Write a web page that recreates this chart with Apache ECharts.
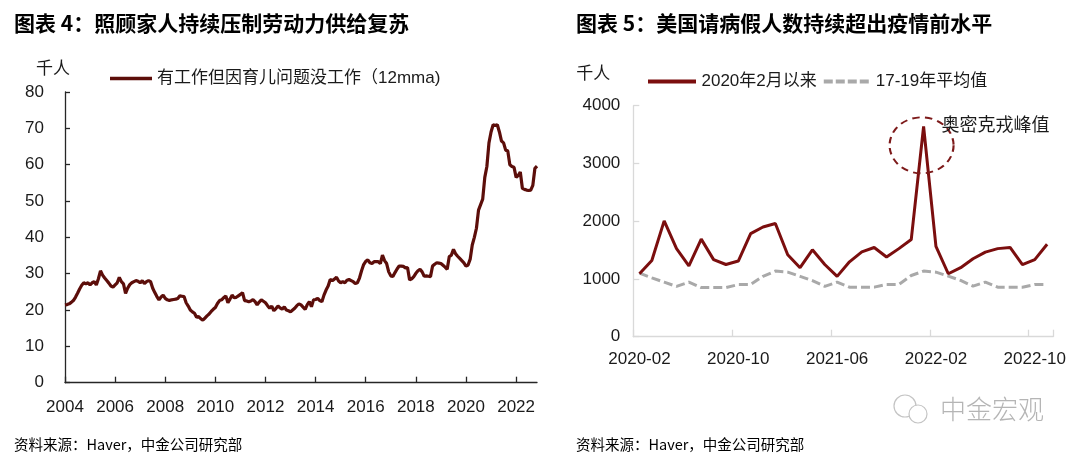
<!DOCTYPE html>
<html>
<head>
<meta charset="utf-8">
<script src="https://cdn.jsdelivr.net/npm/echarts@6/dist/echarts.min.js"></script>
<style>
html,body{margin:0;padding:0;background:#fff;}
#c{width:1080px;height:460px;}
</style>
</head>
<body>
<div id="c"></div>
<script>
// ---------- Chart 4 data (monthly, 12mma, thousand persons) ----------
var childcareValues = [
  21.4,21.5,21.7,22.1,22.6,23.5,24.6,25.8,26.8,27.5,27.2,27.5,   // 2004
  26.9,27.5,27.8,26.9,28.6,30.8,29.6,28.8,28.1,27.4,26.6,26.3,   // 2005
  26.9,27.5,29.0,27.8,27.2,24.6,26.0,27.0,27.5,27.8,28.1,27.9,   // 2006
  27.5,28.1,27.3,27.8,28.1,27.8,26.0,24.8,23.7,22.8,23.6,24.1,   // 2007
  23.2,22.8,22.6,22.8,22.9,23.0,23.2,23.9,23.8,23.7,22.0,21.1,   // 2008
  20.0,19.5,19.1,18.0,18.2,17.6,17.2,17.8,18.4,18.9,19.6,20.2,   // 2009
  20.7,21.8,22.6,22.8,23.4,23.9,22.0,23.0,24.1,23.4,23.5,23.9,   // 2010
  24.3,24.8,22.6,22.5,22.3,22.5,22.9,22.3,21.4,22.2,22.8,22.4,   // 2011
  22.0,21.2,20.5,21.1,19.8,20.4,21.1,20.6,20.2,20.9,20.0,19.8,   // 2012
  19.5,20.0,20.5,21.2,21.7,21.4,20.8,20.2,21.5,22.3,20.9,22.8,   // 2013
  22.9,23.2,22.6,22.3,24.1,25.5,26.6,28.4,28.1,28.5,29.0,28.0,   // 2014
  27.5,27.8,27.5,28.2,28.4,28.1,27.8,27.3,27.5,28.8,30.8,32.5,   // 2015
  33.4,33.8,33.0,32.8,33.3,33.3,33.3,32.8,35.1,33.6,32.8,30.5,   // 2016
  29.4,29.2,30.3,31.3,32.1,32.1,32.0,31.6,31.7,28.3,28.6,29.2,   // 2017
  30.1,30.8,31.2,30.5,29.3,29.4,29.3,29.2,32.1,32.6,33.0,32.9,   // 2018
  32.8,32.3,31.8,31.2,34.7,35.1,36.7,35.5,34.8,34.2,33.6,33.0,   // 2019
  32.1,32.4,34.0,37.9,40.0,42.5,47.5,49.0,50.5,56.5,59.5,66.0,   // 2020
  69.0,71.0,70.8,71.0,69.0,66.5,66.0,64.0,63.8,60.0,59.5,59.3,   // 2021
  56.5,57.0,58.0,53.5,53.2,53.0,52.9,53.0,54.3,59.0,59.6         // 2022 (to Nov)
];
var leftMonths = [];
(function(){
  for (var i = 0; i < childcareValues.length; i++) {
    var y = 2004 + Math.floor(i / 12), m = i % 12 + 1;
    leftMonths.push(y + '-' + (m < 10 ? '0' + m : m));
  }
})();
var leftYTicks = [0,10,20,30,40,50,60,70,80];

// ---------- Chart 5 data (monthly, thousand persons) ----------
var rightMonths = ['2020-02','2020-03','2020-04','2020-05','2020-06','2020-07','2020-08','2020-09','2020-10','2020-11','2020-12',
  '2021-01','2021-02','2021-03','2021-04','2021-05','2021-06','2021-07','2021-08','2021-09','2021-10','2021-11','2021-12',
  '2022-01','2022-02','2022-03','2022-04','2022-05','2022-06','2022-07','2022-08','2022-09','2022-10','2022-11'];
var sickSince2020 = [1090,1320,2005,1525,1225,1690,1335,1250,1310,1785,1900,
  1960,1420,1195,1505,1250,1045,1297,1470,1545,1380,1525,1682,
  3640,1565,1090,1195,1350,1465,1525,1545,1247,1334,1600];
var sickAvg1719 = [1100,1020,945,870,945,850,850,850,904,904,1045,
  1136,1118,1045,970,872,945,858,857,858,904,904,1060,
  1136,1118,1050,974,875,945,857,857,857,904,904];
var rightYTicks = [0,1000,2000,3000,4000];

var FONT = "'Liberation Sans','Noto Sans CJK SC',sans-serif";
var CJK = "'Noto Sans CJK SC','Liberation Sans',sans-serif";
var TXT = '#1a1a1a';
var LEFT_RED = '#5c0e0a';
var RIGHT_RED = '#7b0e0e';
var GRAY = '#a9a9a9';
var ICON_SOLID = 'path://M0,0H48V4H0Z';
var ICON_DASH = 'path://M0,0H9V4H0Z M12,0H21V4H12Z M24,0H33V4H24Z M36,0H45V4H36Z';

var chart = echarts.init(document.getElementById('c'), null, {renderer: 'canvas'});
var option = {
  backgroundColor: '#ffffff',
  animation: false,
  textStyle: {fontFamily: FONT},
  title: [
    {text: '图表 4：照顾家人持续压制劳动力供给复苏', left: 9, top: 8,
     textStyle: {fontFamily: CJK, fontSize: 21, fontWeight: 'bold', color: '#000'}},
    {text: '图表 5：美国请病假人数持续超出疫情前水平', left: 571, top: 8,
     textStyle: {fontFamily: CJK, fontSize: 21, fontWeight: 'bold', color: '#000'}},
    {text: '资料来源：Haver，中金公司研究部', left: 9, top: 432,
     textStyle: {fontFamily: CJK, fontSize: 14.5, fontWeight: 'normal', color: '#000'}},
    {text: '资料来源：Haver，中金公司研究部', left: 571, top: 432,
     textStyle: {fontFamily: CJK, fontSize: 14.5, fontWeight: 'normal', color: '#000'}}
  ],
  legend: [
    {left: 105, top: 65, itemWidth: 42, itemHeight: 4, itemGap: 6,
     data: [{name: '有工作但因育儿问题没工作（12mma)', icon: ICON_SOLID}],
     textStyle: {fontSize: 17, color: TXT, fontFamily: FONT}},
    {left: 643, top: 68, itemWidth: 49, itemHeight: 4, itemGap: 7,
     data: [{name: '2020年2月以来', icon: ICON_SOLID}, {name: '17-19年平均值', icon: ICON_DASH}],
     textStyle: {fontSize: 17, color: TXT, fontFamily: FONT}}
  ],
  grid: [
    {left: 65, top: 92, width: 472, height: 290.7},
    {left: 633.3, top: 105.7, width: 420, height: 231}
  ],
  xAxis: [
    {type: 'category', gridIndex: 0, data: leftMonths, boundaryGap: false,
     axisLine: {lineStyle: {color: '#262626', width: 1.3}},
     axisTick: {show: true, inside: true, length: 6, interval: 23, lineStyle: {color: '#262626', width: 1.3}},
     axisLabel: {interval: 23, margin: 16, fontSize: 17, color: TXT, fontFamily: FONT,
       formatter: function (v) { return v.slice(0, 4); }},
     splitLine: {show: false}},
    {type: 'category', gridIndex: 1, data: rightMonths, boundaryGap: true,
     axisLine: {lineStyle: {color: '#d9d9d9', width: 1.3}},
     axisTick: {show: true, inside: true, length: 7, interval: 7, lineStyle: {color: '#d9d9d9', width: 1.3}},
     axisLabel: {interval: 7, margin: 14, fontSize: 17, color: TXT, fontFamily: FONT},
     splitLine: {show: false}}
  ],
  yAxis: [
    {type: 'value', gridIndex: 0, min: leftYTicks[0], max: leftYTicks[leftYTicks.length - 1], interval: 10,
     name: '千人', nameLocation: 'end', nameGap: 16,
     nameTextStyle: {fontFamily: CJK, fontSize: 17, color: TXT, align: 'center', padding: [0, 24, 0, 0]},
     axisLine: {show: true, lineStyle: {color: '#262626', width: 1.3}},
     axisTick: {show: true, inside: true, length: 5, lineStyle: {color: '#262626', width: 1.3}},
     axisLabel: {margin: 21, fontSize: 17, color: TXT, fontFamily: FONT,
       formatter: function (v) { return String(v); }},
     splitLine: {show: false}},
    {type: 'value', gridIndex: 1, min: rightYTicks[0], max: rightYTicks[rightYTicks.length - 1], interval: 1000,
     name: '千人', nameLocation: 'end', nameGap: 25,
     nameTextStyle: {fontFamily: CJK, fontSize: 17, color: TXT, align: 'center', padding: [0, 80, 0, 0]},
     axisLine: {show: true, lineStyle: {color: '#d9d9d9', width: 1.3}},
     axisTick: {show: true, inside: true, length: 6, lineStyle: {color: '#d9d9d9', width: 1.3}},
     axisLabel: {margin: 13, fontSize: 17, color: TXT, fontFamily: FONT,
       formatter: function (v) { return String(v); }},
     splitLine: {show: false}}
  ],
  series: [
    {name: '有工作但因育儿问题没工作（12mma)', type: 'line', xAxisIndex: 0, yAxisIndex: 0,
     data: childcareValues, symbol: 'none', smooth: false,
     lineStyle: {color: LEFT_RED, width: 3.2}, itemStyle: {color: LEFT_RED}},
    {name: '17-19年平均值', type: 'line', xAxisIndex: 1, yAxisIndex: 1,
     data: sickAvg1719, symbol: 'none',
     lineStyle: {color: GRAY, width: 3, type: [9, 4]}, itemStyle: {color: GRAY}},
    {name: '2020年2月以来', type: 'line', xAxisIndex: 1, yAxisIndex: 1,
     data: sickSince2020, symbol: 'none',
     lineStyle: {color: RIGHT_RED, width: 3}, itemStyle: {color: RIGHT_RED},
     markPoint: {
       silent: true,
       animation: false,
       data: [
         {coord: ['2022-01', 3314], symbol: 'circle', symbolSize: [64, 56], symbolOffset: [-2, 0],
          itemStyle: {color: 'rgba(0,0,0,0)', borderColor: '#7d1a1a', borderWidth: 2, borderType: [7, 5]},
          label: {show: false}},
         {coord: ['2022-02', 3683], symbol: 'circle', symbolSize: 1,
          itemStyle: {color: 'rgba(0,0,0,0)'},
          label: {show: true, position: 'right', distance: 5, formatter: '奥密克戎峰值',
            fontFamily: CJK, fontSize: 18, color: TXT}}
       ]
     }}
  ],
  graphic: [
    {type: 'circle', shape: {cx: 905, cy: 406, r: 11}, style: {fill: '#fff', stroke: '#c4c4c4', lineWidth: 1.2}, z: 10},
    {type: 'circle', shape: {cx: 918, cy: 414, r: 9}, style: {fill: '#fff', stroke: '#c4c4c4', lineWidth: 1.2}, z: 11},
    {type: 'text', left: 940, top: 396,
     style: {text: '中金宏观', font: '300 26px ' + CJK, fill: '#b5b5b5'}, z: 10}
  ]
};
chart.setOption(option);
</script>
</body>
</html>
